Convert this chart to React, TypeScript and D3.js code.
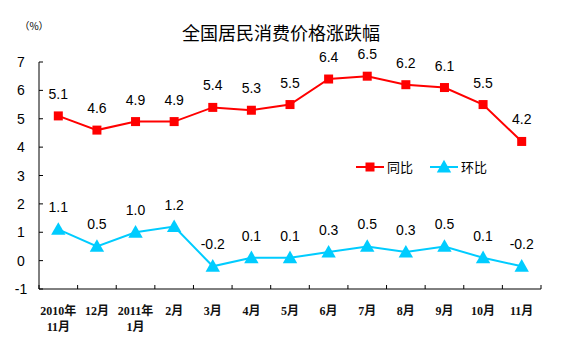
import React from "react";
import * as d3 from "d3";

const categories = ["2010年\n11月", "12月", "2011年\n1月", "2月", "3月", "4月", "5月", "6月", "7月", "8月", "9月", "10月", "11月"];
const yoy = [5.1, 4.6, 4.9, 4.9, 5.4, 5.3, 5.5, 6.4, 6.5, 6.2, 6.1, 5.5, 4.2];
const mom = [1.1, 0.5, 1.0, 1.2, -0.2, 0.1, 0.1, 0.3, 0.5, 0.3, 0.5, 0.1, -0.2];
const yTicks = [-1, 0, 1, 2, 3, 4, 5, 6, 7];

const RED = "#FF0000";
const CYAN = "#00CCFF";

export default function App() {
  const W = 563, H = 357;
  const x0 = 39, x1 = 541, yTop = 62, yBot = 289;
  const x = d3.scaleBand<string>().domain(categories).range([x0, x1]);
  const y = d3.scaleLinear().domain([-1, 7]).range([yBot, yTop]);
  const cx = (i: number) => (x(categories[i]) as number) + x.bandwidth() / 2;
  const line = d3.line<number>().x((_, i) => cx(i)).y(d => y(d));
  const labelFont = "Arial, 'Liberation Sans', 'Noto Sans CJK SC'";
  const tri = (px: number, py: number, s: number) =>
    `M${px},${py - s * 0.6}L${px + s * 0.6},${py + s * 0.45}L${px - s * 0.6},${py + s * 0.45}Z`;
  const edges = [x0, ...categories.map(c => (x(c) as number) + x.bandwidth())];

  return (
    <svg width={W} height={H} style={{ position: "absolute", left: 0, top: 0 }}>
      <rect width={W} height={H} fill="#fff" />
      <text x={281} y={40} textAnchor="middle" fontSize={18} fontFamily="'Noto Sans CJK SC'" fill="#000">全国居民消费价格涨跌幅</text>
      <text x={34} y={30} textAnchor="middle" fontSize={10} fontFamily="'Noto Sans CJK SC'" fill="#000">（%）</text>
      {/* axes */}
      <line x1={x0} x2={x0} y1={yTop} y2={yBot} stroke="#000" strokeWidth={1} />
      <line x1={x0} x2={x1} y1={yBot} y2={yBot} stroke="#000" strokeWidth={1} />
      {yTicks.map(t => (
        <g key={t}>
          <line x1={x0} x2={x0 + 4} y1={y(t)} y2={y(t)} stroke="#000" />
          <text x={21} y={y(t) + 5} textAnchor="middle" fontSize={14} fontFamily={labelFont} fill="#000">{t}</text>
        </g>
      ))}
      {edges.map((e, i) => (
        <line key={i} x1={e} x2={e} y1={yBot} y2={yBot - 4} stroke="#000" />
      ))}
      {categories.map((c, i) => (
        <text key={c} textAnchor="middle" fontSize={12} fontFamily="'Liberation Serif', 'Noto Sans CJK SC'" fontWeight="600" fill="#111">
          {c.split("\n").map((s, j) => (
            <tspan key={j} x={cx(i)} y={315 + j * 16}>{s}</tspan>
          ))}
        </text>
      ))}
      {/* series */}
      <path d={line(yoy) as string} fill="none" stroke={RED} strokeWidth={2} />
      <path d={line(mom) as string} fill="none" stroke={CYAN} strokeWidth={2} />
      {yoy.map((v, i) => (
        <g key={"r" + i}>
          <rect x={cx(i) - 4.5} y={y(v) - 4.5} width={9} height={9} fill={RED} />
          <text x={cx(i)} y={y(v) - 17} textAnchor="middle" fontSize={14} fontFamily={labelFont} fill="#000">{v.toFixed(1)}</text>
        </g>
      ))}
      {mom.map((v, i) => (
        <g key={"c" + i}>
          <path d={tri(cx(i), y(v), 12)} fill={CYAN} />
          <text x={cx(i)} y={y(v) - 17} textAnchor="middle" fontSize={14} fontFamily={labelFont} fill="#000">{v.toFixed(1)}</text>
        </g>
      ))}
      {/* legend */}
      <line x1={356} x2={384} y1={167} y2={167} stroke={RED} strokeWidth={2} />
      <rect x={365.5} y={162.5} width={9} height={9} fill={RED} />
      <text x={387} y={172} fontSize={13} fontFamily="'Noto Sans CJK SC'" fill="#000">同比</text>
      <line x1={430} x2={458} y1={167} y2={167} stroke={CYAN} strokeWidth={2} />
      <path d={tri(444, 167, 12)} fill={CYAN} />
      <text x={461} y={172} fontSize={13} fontFamily="'Noto Sans CJK SC'" fill="#000">环比</text>
    </svg>
  );
}
